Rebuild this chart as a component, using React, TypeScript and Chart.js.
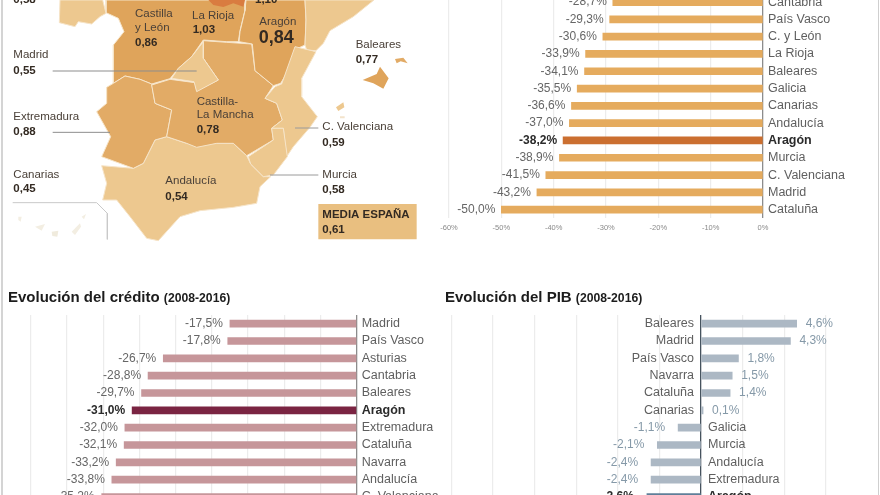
import React, { useEffect, useRef } from "react";
import { Chart, registerables } from "chart.js";

Chart.register(...registerables);

const FONT = '"Liberation Sans", Arial, sans-serif';

// ---- Bar data ----
const cajasRegions = ["Cantabria", "País Vasco", "C. y León", "La Rioja", "Baleares", "Galicia", "Canarias", "Andalucía", "Aragón", "Murcia", "C. Valenciana", "Madrid", "Cataluña"];
const cajasValues = [-28.7, -29.3, -30.6, -33.9, -34.1, -35.5, -36.6, -37.0, -38.2, -38.9, -41.5, -43.2, -50.0];

const creditoRegions = ["Madrid", "País Vasco", "Asturias", "Cantabria", "Baleares", "Aragón", "Extremadura", "Cataluña", "Navarra", "Andalucía", "C. Valenciana"];
const creditoValues = [-17.5, -17.8, -26.7, -28.8, -29.7, -31.0, -32.0, -32.1, -33.2, -33.8, -35.2];

const pibRegions = ["Baleares", "Madrid", "País Vasco", "Navarra", "Cataluña", "Canarias", "Galicia", "Murcia", "Andalucía", "Extremadura", "Aragón"];
const pibValues = [4.6, 4.3, 1.8, 1.5, 1.4, 0.1, -1.1, -2.1, -2.4, -2.4, -2.6];

// ---- Map data (outline points in map units) ----
type P = [number, number];
const LIGHT = "#EDC88F";
const MID = "#DFA45B";
const MID2 = "#E2AB66";
const DARK = "#D97C40";

const galicia: P[] = [[180, 0], [178, 68], [225, 80], [235, 65], [275, 72], [300, 50], [318, 40], [308, 0]];
const castillaLeon: P[] = [[318, 0], [318, 38], [355, 55], [372, 95], [340, 135], [340, 250], [375, 228], [420, 238], [455, 252], [510, 236], [535, 205], [575, 170], [610, 120], [680, 125], [715, 125], [720, 92], [735, 30], [735, 0]];
const rioja: P[] = [[625, 0], [640, 15], [670, 21], [700, 10], [730, 20], [735, 0]];
const aragon: P[] = [[738, 0], [735, 32], [720, 95], [717, 125], [757, 132], [765, 212], [820, 257], [842, 250], [885, 178], [882, 150], [915, 135], [918, 60], [915, 0]];
const cataluna: P[] = [[915, 0], [918, 60], [915, 135], [920, 150], [948, 152], [970, 130], [990, 92], [1060, 50], [1122, 0]];
const valenciana: P[] = [[885, 140], [948, 155], [905, 235], [905, 290], [952, 350], [930, 382], [880, 440], [860, 470], [850, 385], [815, 385], [847, 360], [830, 310], [795, 295], [825, 260], [845, 252]];
const murcia: P[] = [[745, 470], [820, 420], [815, 385], [850, 385], [862, 470], [820, 525], [790, 530], [752, 492]];
const laMancha: P[] = [[610, 122], [680, 127], [755, 132], [765, 212], [820, 257], [795, 295], [830, 310], [847, 360], [815, 385], [820, 420], [740, 467], [700, 430], [650, 430], [590, 442], [560, 430], [500, 410], [515, 330], [465, 310], [455, 255], [510, 238], [585, 248], [590, 272], [655, 240], [610, 175]];
const madrid: P[] = [[610, 125], [610, 175], [655, 240], [590, 275], [582, 245], [515, 235], [535, 205], [575, 170]];
const extremadura: P[] = [[340, 250], [375, 228], [420, 238], [455, 252], [465, 310], [515, 330], [500, 410], [465, 420], [430, 490], [400, 505], [305, 470], [332, 410], [290, 335], [320, 310], [320, 262]];
const andalucia: P[] = [[305, 497], [400, 505], [430, 490], [465, 420], [500, 410], [560, 430], [650, 430], [700, 430], [740, 467], [752, 492], [790, 530], [812, 530], [780, 560], [770, 610], [700, 622], [600, 632], [540, 650], [475, 722], [440, 715], [390, 650], [350, 600], [308, 600], [320, 550]];
const mallorca: P[] = [[1088, 240], [1130, 222], [1140, 200], [1166, 235], [1150, 266], [1120, 250]];
const menorca: P[] = [[1185, 177], [1210, 173], [1223, 190], [1202, 184], [1190, 190]];
const ibiza: P[] = [[1008, 322], [1030, 307], [1033, 322], [1015, 333]];
const formentera: P[] = [[1020, 349], [1034, 349], [1034, 355], [1020, 355]];
const mediaBox: P[] = [[955, 612], [1250, 612], [1250, 718], [955, 718]];
const islandA: P[] = [[55, 650], [65, 650], [62, 665], [55, 660]];
const islandB: P[] = [[105, 680], [135, 672], [125, 692]];
const islandC: P[] = [[155, 695], [175, 692], [172, 710], [157, 708]];
const islandD: P[] = [[215, 695], [240, 670], [243, 680], [225, 705]];
const islandE: P[] = [[245, 650], [258, 642], [252, 658]];
const canariasFrame: P[] = [[38, 608], [290, 608], [322, 640], [322, 718]];
const madridLead: P[] = [[158, 213], [590, 213]];
const extremaduraLead: P[] = [[158, 397], [330, 397]];
const valencianaLead: P[] = [[885, 384], [955, 384]];
const murciaLead: P[] = [[810, 525], [955, 525]];

const mapNames = ["Castilla", "y León", "La Rioja", "Aragón", "Baleares", "Madrid", "Extremadura", "Canarias", "Castilla-", "La Mancha", "C. Valenciana", "Murcia", "Andalucía"];
const mapValues = ["0,58", "1,10", "0,86", "1,03", "0,84", "0,77", "0,55", "0,88", "0,45", "0,78", "0,59", "0,58", "0,54", "0,61"];
const mediaTitle = "MEDIA ESPAÑA";

function fmt(v: number) {
  return v.toFixed(1).replace(".", ",") + "%";
}

interface BarCfg {
  canvas: HTMLCanvasElement;
  regions: string[];
  values: number[];
  color: string;
  hot: string;
  min: number;
  max: number;
  step: number;
  left: number;
  right: number;
  top: number;
  rowH: number;
  axisColor: string;
  gridColor: string;
  valueColor: string;
  showX: boolean;
  flip: boolean;
  valueGapNeg: number;
  valueGapPos: number;
}

function makeBars(c: BarCfg) {
  const W = c.canvas.width;
  const H = c.canvas.height;
  const plotH = c.regions.length * c.rowH;
  const bottomSpace = H - c.top - plotH;
  const labelPlugin = {
    id: "barLabels",
    afterDatasetsDraw(chart: any) {
      const ctx = chart.ctx;
      const zero = chart.scales.x.getPixelForValue(0);
      ctx.save();
      ctx.textBaseline = "middle";
      chart.getDatasetMeta(0).data.forEach((bar: any, i: number) => {
        const v = c.values[i];
        const isHot = c.regions[i] === "Aragón";
        ctx.font = `${isHot ? "bold " : ""}12px ${FONT}`;
        ctx.fillStyle = isHot ? "#2b2b2b" : c.valueColor;
        if (v < 0) {
          ctx.textAlign = "right";
          ctx.fillText(fmt(v), bar.x - c.valueGapNeg, bar.y);
        } else {
          ctx.textAlign = "left";
          ctx.fillText(fmt(v), bar.x + c.valueGapPos, bar.y);
        }
        if (c.flip) {
          ctx.font = `${isHot ? "bold " : ""}12.5px ${FONT}`;
          ctx.fillStyle = isHot ? "#2b2b2b" : "#5f5f5f";
          if (v < 0) {
            ctx.textAlign = "left";
            ctx.fillText(c.regions[i], zero + 7, bar.y);
          } else {
            ctx.textAlign = "right";
            ctx.fillText(c.regions[i], zero - 7, bar.y);
          }
        }
      });
      ctx.restore();
    },
  };
  return new Chart(c.canvas, {
    type: "bar",
    data: {
      labels: c.regions,
      datasets: [
        {
          data: c.values,
          backgroundColor: c.regions.map((r) => (r === "Aragón" ? c.hot : c.color)),
          barThickness: 7,
          borderWidth: 0,
        },
      ],
    },
    plugins: [labelPlugin],
    options: {
      indexAxis: "y",
      responsive: false,
      animation: false,
      devicePixelRatio: 1,
      layout: { padding: { left: c.left, right: 0, top: c.top, bottom: c.flip ? bottomSpace : 0 } },
      plugins: { legend: { display: false }, tooltip: { enabled: false }, title: { display: false } },
      scales: {
        x: {
          type: "linear",
          min: c.min,
          max: c.max,
          position: "bottom",
          border: { display: false },
          grid: {
            color: (g: any) => (g.tick && g.tick.value === 0 ? c.axisColor : c.gridColor),
            lineWidth: (g: any) => (g.tick && g.tick.value === 0 ? 1.3 : 1.2),
            drawTicks: false,
          },
          ticks: {
            display: c.showX,
            stepSize: c.step,
            padding: 5,
            maxRotation: 0,
            autoSkip: false,
            color: "#8a8a8a",
            font: { family: FONT, size: 7.5 },
            callback: (v: any) => `${v}%`,
          },
          afterFit(s: any) {
            s.height = c.flip ? 0 : bottomSpace;
            s.paddingLeft = 0;
            s.paddingRight = 0;
          },
        },
        y: {
          type: "category",
          position: "right",
          display: !c.flip,
          border: { display: false },
          grid: { display: false, drawTicks: false },
          ticks: {
            padding: 5,
            autoSkip: false,
            color: (t: any) => (c.regions[t.index] === "Aragón" ? "#2b2b2b" : "#5f5f5f"),
            font: (t: any) => ({
              family: FONT,
              size: 12.5,
              weight: c.regions[t.index] === "Aragón" ? "bold" : "normal",
            }),
          },
          afterFit(s: any) {
            s.width = W - c.right;
            s.paddingTop = 0;
            s.paddingBottom = 0;
          },
        },
      },
    } as any,
  });
}

function poly(points: P[], fill: string, border: string) {
  const closed = [...points, points[0]];
  return {
    data: closed.map(([x, y]) => ({ x, y })),
    showLine: true,
    fill: "shape",
    backgroundColor: fill,
    borderColor: border,
    borderWidth: border === "transparent" ? 0 : 1,
    pointRadius: 0,
    tension: 0,
  };
}
function lead(points: P[], color: string) {
  return {
    data: points.map(([x, y]) => ({ x, y })),
    showLine: true,
    fill: false,
    borderColor: color,
    borderWidth: 1,
    pointRadius: 0,
    tension: 0,
  };
}

function makeMap(canvas: HTMLCanvasElement) {
  const edge = "#F6E4C8";
  const textPlugin = {
    id: "mapText",
    afterDatasetsDraw(chart: any) {
      const { ctx, scales } = chart;
      const name = (i: number, x: number, y: number) => {
        ctx.font = `11.5px ${FONT}`;
        ctx.fillStyle = "#4a4038";
        ctx.fillText(mapNames[i], scales.x.getPixelForValue(x), scales.y.getPixelForValue(y));
      };
      const val = (i: number, x: number, y: number, size = 11.5) => {
        ctx.font = `bold ${size}px ${FONT}`;
        ctx.fillStyle = "#332a22";
        ctx.fillText(mapValues[i], scales.x.getPixelForValue(x), scales.y.getPixelForValue(y));
      };
      ctx.save();
      ctx.textAlign = "left";
      ctx.textBaseline = "middle";
      val(0, 40, 0);
      val(1, 765, 0);
      name(0, 405, 42);
      name(1, 405, 82);
      val(2, 405, 128);
      name(2, 576, 46);
      val(3, 578, 90);
      name(3, 778, 64);
      val(4, 776, 115, 18);
      name(4, 1067, 134);
      val(5, 1067, 180);
      name(5, 40, 165);
      val(6, 40, 212);
      name(6, 40, 351);
      val(7, 40, 396);
      name(7, 40, 523);
      val(8, 40, 566);
      name(8, 590, 306);
      name(9, 590, 345);
      val(9, 590, 388);
      name(10, 967, 381);
      val(10, 967, 428);
      name(11, 967, 523);
      val(11, 967, 568);
      name(12, 496, 541);
      val(12, 496, 591);
      ctx.font = `bold 11.5px ${FONT}`;
      ctx.fillStyle = "#332a22";
      ctx.fillText(mediaTitle, scales.x.getPixelForValue(967), scales.y.getPixelForValue(645));
      val(13, 967, 690);
      ctx.restore();
    },
  };
  return new Chart(canvas, {
    type: "scatter",
    data: {
      datasets: [
        lead(madridLead, "#8d8d8d"),
        lead(extremaduraLead, "#8d8d8d"),
        lead(valencianaLead, "#9a9a9a"),
        lead(murciaLead, "#9a9a9a"),
        lead(canariasFrame, "#c9c9c9"),
        poly(rioja, DARK, "transparent"),
        poly(madrid, LIGHT, edge),
        poly(murcia, LIGHT, edge),
        poly(valenciana, LIGHT, edge),
        poly(cataluna, LIGHT, edge),
        poly(galicia, LIGHT, edge),
        poly(aragon, MID, edge),
        poly(laMancha, MID2, edge),
        poly(extremadura, MID2, edge),
        poly(andalucia, LIGHT, edge),
        poly(castillaLeon, MID, edge),
        poly(mallorca, MID, "transparent"),
        poly(menorca, MID2, "transparent"),
        poly(ibiza, LIGHT, "transparent"),
        poly(formentera, "#F3E3CB", "transparent"),
        poly(mediaBox, "#E9BF80", "transparent"),
        poly(islandA, "#F3EEE2", "transparent"),
        poly(islandB, "#F3EEE2", "transparent"),
        poly(islandC, "#F0EBDD", "transparent"),
        poly(islandD, "#F3EEE2", "transparent"),
        poly(islandE, "#F3EEE2", "transparent"),
      ],
    } as any,
    plugins: [textPlugin],
    options: {
      responsive: false,
      animation: false,
      devicePixelRatio: 1,
      layout: { padding: 0 },
      plugins: { legend: { display: false }, tooltip: { enabled: false } },
      scales: {
        x: { type: "linear", min: 0, max: 1290, display: false },
        y: { type: "linear", min: 0, max: 750, reverse: true, display: false },
      },
    } as any,
  });
}

const canvasStyle = (left: number, top: number): React.CSSProperties => ({
  position: "absolute",
  left,
  top,
  filter: "blur(0.35px)",
});

const titleStyle = (left: number): React.CSSProperties => ({
  position: "absolute",
  left,
  top: 289,
  fontFamily: FONT,
  fontWeight: "bold",
  fontSize: 15,
  lineHeight: "16px",
  color: "#1c1c1c",
  whiteSpace: "nowrap",
});

export default function App() {
  const mapRef = useRef<HTMLCanvasElement>(null);
  const aRef = useRef<HTMLCanvasElement>(null);
  const bRef = useRef<HTMLCanvasElement>(null);
  const cRef = useRef<HTMLCanvasElement>(null);

  useEffect(() => {
    const charts = [
      makeMap(mapRef.current!),
      makeBars({
        canvas: aRef.current!,
        regions: cajasRegions,
        values: cajasValues,
        color: "#E5AB5E",
        hot: "#CB6F30",
        min: -60,
        max: 0,
        step: 10,
        left: 19,
        right: 333,
        top: 13.4,
        rowH: 17.3,
        axisColor: "#8c8c8c",
        gridColor: "#ececec",
        valueColor: "#666666",
        showX: true,
        flip: false,
        valueGapNeg: 6,
        valueGapPos: 6,
      }),
      makeBars({
        canvas: bRef.current!,
        regions: creditoRegions,
        values: creditoValues,
        color: "#C6969A",
        hot: "#7A2442",
        min: -45,
        max: 0,
        step: 5,
        left: 30.7,
        right: 356.7,
        top: 15,
        rowH: 17.33,
        axisColor: "#8c8c8c",
        gridColor: "#ececec",
        valueColor: "#666666",
        showX: false,
        flip: false,
        valueGapNeg: 7,
        valueGapPos: 7,
      }),
      makeBars({
        canvas: cRef.current!,
        regions: pibRegions,
        values: pibValues,
        color: "#ACB8C4",
        hot: "#5F7F99",
        min: -12,
        max: 6,
        step: 2,
        left: 11.4,
        right: 385.8,
        top: 15,
        rowH: 17.33,
        axisColor: "#46535e",
        gridColor: "#ececec",
        valueColor: "#8599a8",
        showX: false,
        flip: true,
        valueGapNeg: 13,
        valueGapPos: 9,
      }),
    ];
    return () => charts.forEach((c) => c.destroy());
  }, []);

  return (
    <div style={{ position: "fixed", left: 0, top: 0, width: 880, height: 495, overflow: "hidden", background: "#ffffff" }}>
      <canvas ref={mapRef} width={430} height={250} style={canvasStyle(0, 0)} />
      <canvas ref={aRef} width={450} height={270} style={canvasStyle(430, -20)} />
      <canvas ref={bRef} width={440} height={230} style={canvasStyle(0, 300)} />
      <canvas ref={cRef} width={440} height={230} style={canvasStyle(440, 300)} />
      <div style={titleStyle(8)}>
        Evolución del crédito <span style={{ fontSize: 12.2 }}>(2008-2016)</span>
      </div>
      <div style={titleStyle(445)}>
        Evolución del PIB <span style={{ fontSize: 12.2 }}>(2008-2016)</span>
      </div>
      <div style={{ position: "absolute", left: 1, top: 0, width: 1.5, height: 495, background: "#d4d4d4" }} />
      <div style={{ position: "absolute", left: 877.5, top: 0, width: 1.5, height: 495, background: "#cfcfcf" }} />
    </div>
  );
}
